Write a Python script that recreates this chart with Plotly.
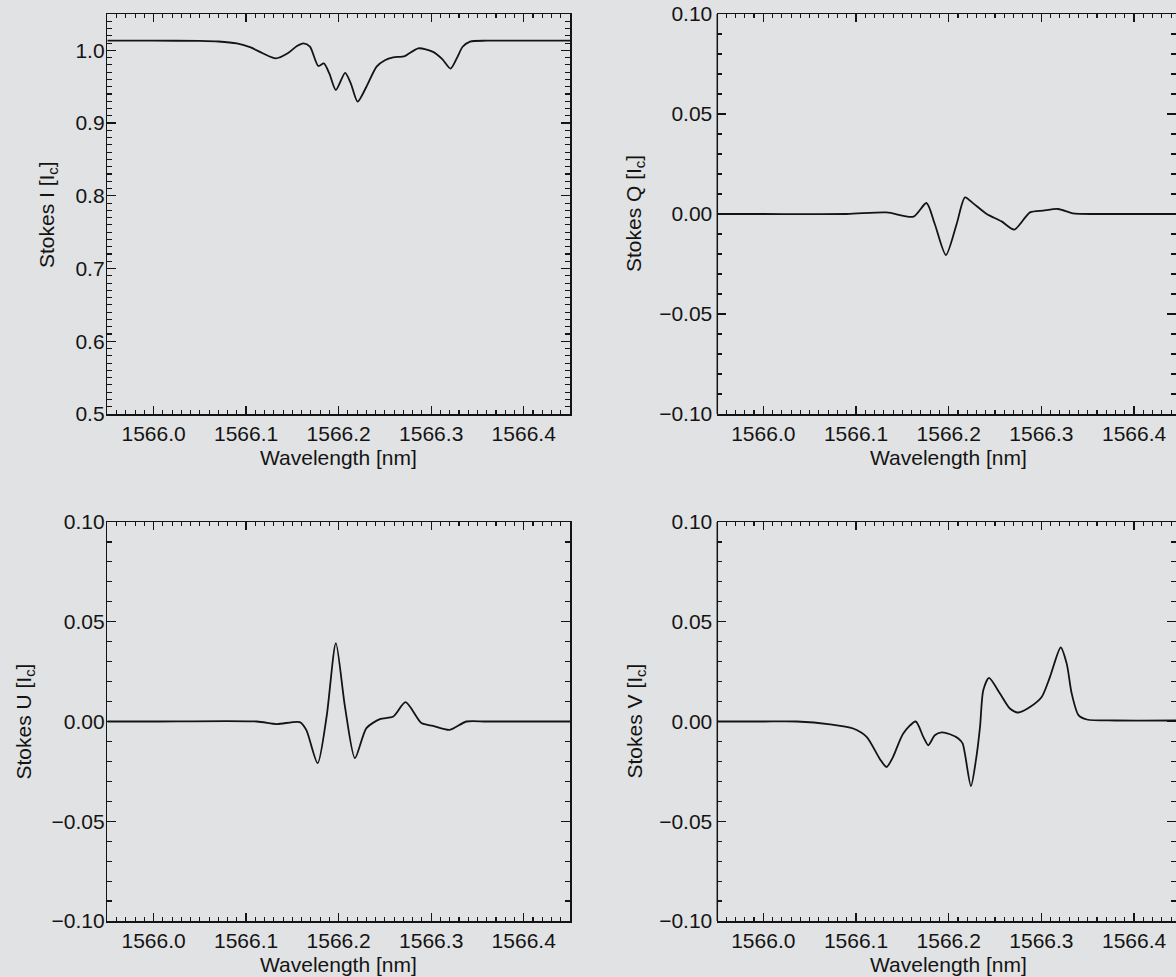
import plotly.graph_objects as go

W, H = 1176, 977

# ---------------- data ----------------
wl_I = [1565.95, 1566.00, 1566.05, 1566.07, 1566.09, 1566.105, 1566.118, 1566.132, 1566.145,
        1566.155, 1566.162, 1566.169, 1566.178, 1566.184, 1566.190, 1566.197, 1566.207,
        1566.213, 1566.2205, 1566.230, 1566.241, 1566.250, 1566.259, 1566.2715, 1566.286,
        1566.302, 1566.312, 1566.321, 1566.328, 1566.334, 1566.342, 1566.36, 1566.40, 1566.45]
stokes_I = [1.0133, 1.0133, 1.0130, 1.0122, 1.0095, 1.0040, 0.9960, 0.9890, 0.9960,
            1.0060, 1.0097, 1.0050, 0.9785, 0.9820, 0.9680, 0.9455, 0.9690,
            0.9550, 0.9295, 0.9500, 0.9776, 0.9865, 0.9904, 0.9922, 1.0028,
            0.9980, 0.9880, 0.9750, 0.9900, 1.0050, 1.0120, 1.0133, 1.0133, 1.0133]

wl_Q = [1565.95, 1566.00, 1566.09, 1566.133, 1566.162, 1566.176, 1566.185,
        1566.197, 1566.2086, 1566.2176, 1566.2265, 1566.241, 1566.257,
        1566.2708, 1566.2877, 1566.302, 1566.318, 1566.334, 1566.36, 1566.45]
stokes_Q = [0.0, 0.0, 0.0, 0.0008, -0.0013, 0.0055, -0.0050,
            -0.0205, -0.0050, 0.0083, 0.0053, 0.0000, -0.0037,
            -0.0078, 0.0008, 0.0017, 0.0025, 0.0003, 0.0, 0.0]

wl_U = [1565.95, 1566.00, 1566.1115, 1566.133, 1566.158, 1566.165, 1566.1773,
        1566.187, 1566.197, 1566.2068, 1566.2176, 1566.230, 1566.2446,
        1566.259, 1566.2723, 1566.2895, 1566.302, 1566.320, 1566.338, 1566.36, 1566.45]
stokes_U = [0.0, 0.0, 0.0, -0.0013, -0.0003, -0.0042, -0.0209,
            0.0025, 0.0393, 0.0075, -0.0184, -0.0033, 0.0012,
            0.0025, 0.0097, -0.0008, -0.0022, -0.0042, 0.0, 0.0, 0.0]

wl_V = [1565.95, 1566.00, 1566.036, 1566.072, 1566.097, 1566.1115, 1566.126,
        1566.133, 1566.140, 1566.151, 1566.1644, 1566.1726, 1566.178, 1566.185,
        1566.1925, 1566.2014, 1566.2104, 1566.215, 1566.224, 1566.2295,
        1566.2338, 1566.2373, 1566.2435, 1566.2553, 1566.266, 1566.275,
        1566.2877, 1566.3003, 1566.3093, 1566.3208, 1566.3273, 1566.3327,
        1566.340, 1566.349, 1566.38, 1566.45]
stokes_V = [0.0, 0.0, 0.0, -0.0014, -0.0035, -0.0077, -0.0190,
            -0.0228, -0.0177, -0.0060, 0.0000, -0.0077, -0.0119, -0.0069,
            -0.0055, -0.0064, -0.0085, -0.0110, -0.0324, -0.0190,
            -0.0027, 0.0157, 0.0219, 0.0140, 0.0065, 0.0045,
            0.0073, 0.0123, 0.0224, 0.0371, 0.0290, 0.0140,
            0.0032, 0.0010, 0.0005, 0.0005]

y_titles = ["Stokes I [I<sub>c</sub>]", "Stokes Q [I<sub>c</sub>]",
            "Stokes U [I<sub>c</sub>]", "Stokes V [I<sub>c</sub>]"]
x_title = "Wavelength [nm]"

# ---------------- layout geometry (pixels) ----------------
BG = "#e1e2e3"
INK = "#141414"
FONT = "Liberation Sans, Arial, Helvetica, sans-serif"
FS = 21

def px_x(p):
    return p / W

def px_y(p):
    return 1 - p / H

col1 = [px_x(107.3), px_x(570.0)]
col2 = [px_x(717.3), 1.0]
row1 = [px_y(414.0), px_y(14.0)]
row2 = [px_y(921.0), px_y(522.0)]

fig = go.Figure()

series = [(wl_I, stokes_I), (wl_Q, stokes_Q), (wl_U, stokes_U), (wl_V, stokes_V)]
for i, (xs, ys) in enumerate(series):
    sfx = "" if i == 0 else str(i + 1)
    fig.add_trace(go.Scatter(x=xs, y=ys, mode="lines",
                             line=dict(color=INK, width=1.8, shape="spline", smoothing=0.7),
                             xaxis="x" + sfx, yaxis="y" + sfx, showlegend=False,
                             hoverinfo="skip"))

def xaxis(domain, anchor, rng):
    return dict(domain=domain, anchor=anchor, range=rng, showgrid=False, zeroline=False,
                showline=True, linecolor=INK, linewidth=1.5, mirror="ticks",
                ticks="inside", ticklen=8, tickwidth=1.3, tickcolor=INK,
                tickmode="linear", tick0=1566.0, dtick=0.1, tickformat=".1f",
                minor=dict(ticks="inside", ticklen=4, tickwidth=1.1, tickcolor=INK,
                           tickmode="linear", tick0=1566.0, dtick=0.01, showgrid=False),
                tickfont=dict(family=FONT, size=FS, color=INK),
                automargin=False, fixedrange=True)

def yaxis(domain, anchor, rng, dtick, fmt, showline=True, standoff=-3):
    return dict(domain=domain, anchor=anchor, range=rng, showgrid=False, zeroline=False,
                showline=showline, linecolor=INK, linewidth=1.5, mirror="ticks",
                ticks="inside", ticklen=9, tickwidth=1.3, tickcolor=INK,
                tickmode="linear", tick0=0.0, dtick=dtick, tickformat=fmt,
                minor=dict(ticks="inside", ticklen=5, tickwidth=1.1, tickcolor=INK,
                           tickmode="linear", tick0=0.0, dtick=0.01, showgrid=False),
                tickfont=dict(family=FONT, size=FS, color=INK), ticklabelstandoff=standoff,
                automargin=False, fixedrange=True)

XR1 = [1565.95, 1566.45]
XR2 = [1565.9504, 1566.4452]

fig.update_layout(
    width=W, height=H,
    margin=dict(l=0, r=0, t=0, b=0),
    paper_bgcolor=BG, plot_bgcolor=BG,
    font=dict(family=FONT, size=FS, color=INK),
    xaxis=xaxis(col1, "y", XR1),
    yaxis=yaxis(row1, "x", [0.5, 1.05], 0.1, ".1f"),
    xaxis2=xaxis(col2, "y2", XR2),
    yaxis2=yaxis(row1, "x2", [-0.1, 0.1], 0.05, ".2f", showline=False, standoff=4),
    xaxis3=xaxis(col1, "y3", XR1),
    yaxis3=yaxis(row2, "x3", [-0.1, 0.1], 0.05, ".2f"),
    xaxis4=xaxis(col2, "y4", XR2),
    yaxis4=yaxis(row2, "x4", [-0.1, 0.1], 0.05, ".2f", showline=False, standoff=4),
)

# left spines of the right-hand panels (their right spine lies outside the picture)
for sfx in ["2", "4"]:
    fig.add_shape(type="line", xref="x" + sfx + " domain", yref="y" + sfx + " domain",
                  x0=0, x1=0, y0=0, y1=1, line=dict(color=INK, width=1.5), layer="above")

# axis titles as annotations at measured positions
ytitle_x = [48, 635, 24, 635]
ytitle_y = [214, 214, 721.5, 721.5]
xtitle_x = [338.7, 948.8, 338.7, 948.8]
xtitle_y = [457, 457, 964, 964]
for i in range(4):
    fig.add_annotation(text=y_titles[i], xref="paper", yref="paper",
                       x=px_x(ytitle_x[i]), y=px_y(ytitle_y[i]), textangle=-90,
                       showarrow=False, xanchor="center", yanchor="middle",
                       font=dict(family=FONT, size=FS, color=INK))
    fig.add_annotation(text=x_title, xref="paper", yref="paper",
                       x=px_x(xtitle_x[i]), y=px_y(xtitle_y[i]),
                       showarrow=False, xanchor="center", yanchor="middle",
                       font=dict(family=FONT, size=FS, color=INK))

fig.write_html("out.html",
               config={"displayModeBar": False, "staticPlot": True},
               post_script="document.body.style.margin='0';document.body.style.padding='0';"
                           "document.body.style.overflow='hidden';"
                           "document.body.style.background='" + BG + "';")
